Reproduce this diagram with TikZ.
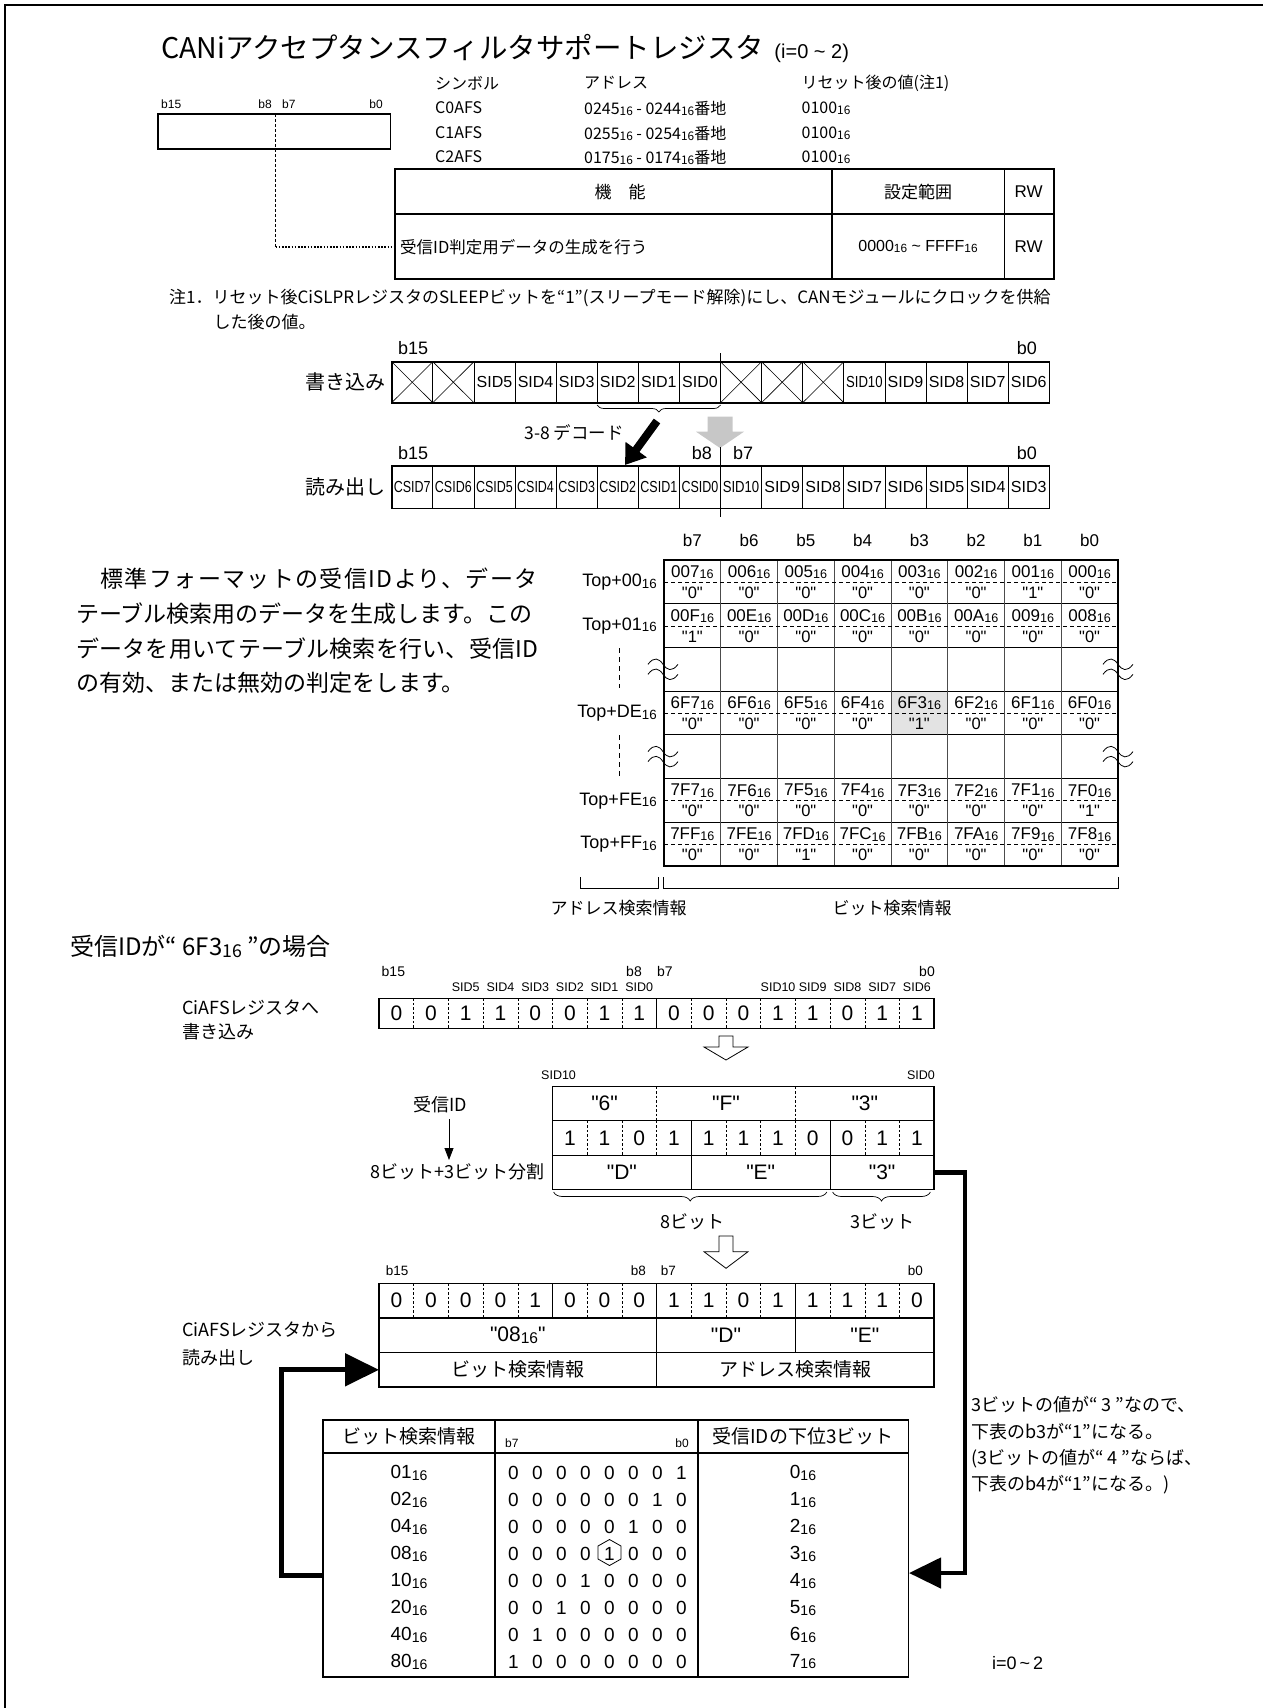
\documentclass[tikz,border=0pt]{standalone}
\usepackage{fontspec}
\usepackage{graphicx}
\setmainfont{Noto Sans CJK JP}
\newfontfamily\lat{Liberation Sans}
\usetikzlibrary{arrows.meta,decorations.pathreplacing}
\newcommand\fs[1]{\fontsize{#1pt}{#1pt}\selectfont}
\newcommand\hs{\raisebox{-0.08em}{\scalebox{0.74}{16}}}
\newcommand\sqz[2]{\scalebox{#1}[1]{#2}}
\newcommand\tabrow[4]{%
  \foreach \d [count=\c from 0] in {#3}
    \node[font=\lat\fs{17}] (hx#1\c) at ({664+(\c+0.5)*56.75},{560+#1*43.7+12.3}) {#2\d\hs};
  \foreach \v [count=\c from 0] in {#4}
    \node[font=\lat\fs{16.5}] (hv#1\c) at ({664+(\c+0.5)*56.75},{560+#1*43.7+32.7}) {"\v"};
}
\newcommand\wavemark[2]{%
  \draw[line width=0.8] ({#1-15},{#2-5}) .. controls ({#1-9},{#2-13}) and ({#1-4},{#2-11}) .. ({#1},{#2-5}) .. controls ({#1+4},{#2+1}) and ({#1+9},{#2+3}) .. ({#1+15},{#2-5});
  \draw[line width=0.8] ({#1-15},{#2+5}) .. controls ({#1-9},{#2-3}) and ({#1-4},{#2-1}) .. ({#1},{#2+5}) .. controls ({#1+4},{#2+11}) and ({#1+9},{#2+13}) .. ({#1+15},{#2+5});
}
% bit row: #1 x0, #2 y0, #3 height, #4 bits, #5 unused, #6 name
\newcommand\bitrow[6]{%
  \foreach \b [count=\c from 0] in {#4}
    \node[font=\lat\fs{21}] (#6\c) at ({#1+(\c+0.5)*34.7},{#2+#3/2}) {\b};
}
\tikzset{
  dsh/.style={line width=0.6, dash pattern=on 2.5pt off 2pt},
  thickbox/.style={line width=1.6},
  cellline/.style={line width=0.7},
  openarrow/.style={line width=0.8, fill=white},
}
\begin{document}
\begin{tikzpicture}[x=1pt,y=-1pt,every node/.style={inner sep=0pt}]
\useasboundingbox (0,0) rectangle (1263,1708);
% frame
\draw[line width=2] (5,1708) -- (5,5) -- (1263,5);

% ===== title
\node[anchor=west,font=\fs{28.5}] (title) at (161,48) {CANiアクセプタンスフィルタサポートレジスタ};
\node[anchor=base west,font=\lat\fs{20}] (titlei) at ([xshift=10pt]title.base east) {(i=0 \textasciitilde\ 2)};

% ===== small register
\node[anchor=west,font=\lat\fs{12}] (sb15) at (161,104) {b15};
\node[anchor=east,font=\lat\fs{12}] (sb8) at (272,104) {b8};
\node[anchor=west,font=\lat\fs{12}] (sb7) at (282,104) {b7};
\node[anchor=east,font=\lat\fs{12}] (sb0) at (383,104) {b0};
\draw[line width=1.3] (158,114) rectangle (390.6,149);
\coordinate (dl1) at (275.5,114);
\coordinate (dl2) at (275.5,247);
\coordinate (dl3) at (396,247);
\draw[line width=1, dash pattern=on 3pt off 2pt] (dl1) -- (dl2);
\draw[line width=1.6, dash pattern=on 1.6pt off 1.6pt] (dl2) -- (dl3);

% ===== symbol/address table
\foreach \t/\x [count=\k] in {シンボル/435,アドレス/584,リセット後の値(注1)/801.5}
  \node[anchor=west,font=\fs{16}] (sh\k) at (\x,83) {\t};
\node[anchor=west,font=\fs{16}] (s0) at (435,108) {C0AFS};
\node[anchor=west,font=\fs{16}] (s1) at (435,133) {C1AFS};
\node[anchor=west,font=\fs{16}] (s2) at (435,157) {C2AFS};
\node[anchor=west,font=\fs{16}] (a0) at (584,108) {0245\hs\ - 0244\hs 番地};
\node[anchor=west,font=\fs{16}] (a1) at (584,133) {0255\hs\ - 0254\hs 番地};
\node[anchor=west,font=\fs{16}] (a2) at (584,157) {0175\hs\ - 0174\hs 番地};
\node[anchor=west,font=\fs{16}] (r0) at (801.5,108) {0100\hs};
\node[anchor=west,font=\fs{16}] (r1) at (801.5,133) {0100\hs};
\node[anchor=west,font=\fs{16}] (r2) at (801.5,157) {0100\hs};

% ===== function table
\draw[line width=2] (394.7,169) rectangle (1053.6,279);
\draw[line width=2] (394.7,214) -- (1053.6,214);
\draw[line width=1.1] (832,169) -- (832,279) (1004.5,169) -- (1004.5,279);
\node[font=\fs{17}] (fk) at (620,192) {機　能};
\node[font=\fs{17}] (fr) at (918,192) {設定範囲};
\node[font=\lat\fs{17}] (frw) at (1028.6,192) {RW};
\node[anchor=west,font=\fs{16.5}] (fd) at (400,246.8) {受信ID判定用データの生成を行う};
\node[font=\lat\fs{16}] (fv) at (918,246.8) {0000\hs\ \textasciitilde\ FFFF\hs};
\node[font=\lat\fs{17}] (frw2) at (1028.6,246.8) {RW};

% ===== note
\node[anchor=west,font=\fs{17}] (n1) at (169,297.7) {注1．リセット後CiSLPRレジスタのSLEEPビットを“1”(スリープモード解除)にし、CANモジュールにクロックを供給};
\node[anchor=west,font=\fs{17}] (n2) at (213.5,321.7) {した後の値。};

% ===== write register
\def\wx{391.7}\def\wc{41.1}
\node[anchor=west,font=\lat\fs{18}] (wb15) at (398,348) {b15};
\node[anchor=east,font=\lat\fs{18}] (wb0) at (1037,348) {b0};
\node[anchor=east,font=\fs{20}] (wlab) at (386,382.2) {書き込み};
\foreach \i in {1,...,15} \draw[cellline] ({\wx+\i*\wc},361.7) -- ++(0,41);
\foreach \i in {0,1,8,9,10} {
  \draw[line width=0.6] ({\wx+\i*\wc},361.7) -- ++(\wc,41);
  \draw[line width=0.6] ({\wx+(\i+1)*\wc},361.7) -- ++(-\wc,41);
}
\draw[thickbox] (\wx,361.7) rectangle ({\wx+16*\wc},402.7);
\foreach \t/\i in {SID5/2,SID4/3,SID3/4,SID2/5,SID1/6,SID0/7,SID9/12,SID8/13,SID7/14,SID6/15}
  \node[font=\lat\fs{16}] (w\i) at ({\wx+(\i+0.5)*\wc},382.2) {\t};
\node[font=\lat\fs{16}] (w11) at ({\wx+11.5*\wc},382.2) {\sqz{0.82}{SID10}};

% brace + arrows between registers
\draw[decorate,decoration={brace,amplitude=7pt,mirror},line width=0.7] ({\wx+5*\wc},405) -- ({\wx+8*\wc},405);
\coordinate (ba1) at (657,421);
\coordinate (ba2) at (625,465);
\draw[line width=8,-{Triangle[length=19pt,width=25pt]}] (ba1) -- (ba2);
\node[font=\fs{17.5}] (dec) at (574,433) {3-8 デコード};
\fill[black!22] (707.5,416.7) -- (732.5,416.7) -- (732.5,431.7) -- (744,431.7) -- (720,448) -- (696,431.7) -- (707.5,431.7) -- cycle;

% ===== read register
\node[anchor=west,font=\lat\fs{18}] (rb15) at (398,453) {b15};
\node[anchor=east,font=\lat\fs{18}] (rb8) at (712,453) {b8};
\node[anchor=west,font=\lat\fs{18}] (rb7) at (733,453) {b7};
\node[anchor=east,font=\lat\fs{18}] (rb0) at (1037,453) {b0};
\node[anchor=east,font=\fs{20}] (rlab) at (386,487.2) {読み出し};
\foreach \i in {1,...,15} \draw[cellline] ({\wx+\i*\wc},466) -- ++(0,42.3);
\draw[thickbox] (\wx,466) rectangle ({\wx+16*\wc},508.3);
\foreach \t/\i in {CSID7/0,CSID6/1,CSID5/2,CSID4/3,CSID3/4,CSID2/5,CSID1/6,CSID0/7}
  \node[font=\lat\fs{16}] (rc\i) at ({\wx+(\i+0.5)*\wc},487.2) {\sqz{0.78}{\t}};
\node[font=\lat\fs{16}] (rc8) at ({\wx+8.5*\wc},487.2) {\sqz{0.82}{SID10}};
\foreach \t/\i in {SID9/9,SID8/10,SID7/11,SID6/12,SID5/13,SID4/14,SID3/15}
  \node[font=\lat\fs{16}] (rc\i) at ({\wx+(\i+0.5)*\wc},487.2) {\t};
% centre line
\draw[line width=0.7] (720,353) -- (720,361.7) (720,447) -- (720,466) (720,508.3) -- (720,517);

% ===== paragraph
\node[anchor=west,font=\fs{23}\addfontfeature{LetterSpace=6}] (p1) at (76,578.6) {　標準フォーマットの受信IDより、データ};
\node[anchor=west,font=\fs{23}] (p2) at (76,613.5) {テーブル検索用のデータを生成します。この};
\node[anchor=west,font=\fs{23}\addfontfeature{LetterSpace=1}] (p3) at (76,648.4) {データを用いてテーブル検索を行い、受信ID};
\node[anchor=west,font=\fs{23}] (p4) at (76,683.3) {の有効、または無効の判定をします。};

% ===== big table
\def\tx{664}\def\tw{56.75}\def\ty{560}\def\th{43.7}
\foreach \t [count=\c from 0] in {b7,b6,b5,b4,b3,b2,b1,b0}
  \node[font=\lat\fs{17}] (bh\c) at ({\tx+(\c+0.5)*\tw},540.5) {\t};
\fill[black!11] ({\tx+4*\tw},{\ty+3*\th}) rectangle ++(\tw,\th);
\foreach \r in {1,...,6} \draw[line width=1] (\tx,{\ty+\r*\th}) -- ++(8*\tw,0);
\foreach \c in {1,...,7} \draw[line width=0.8,black!70] ({\tx+\c*\tw},\ty) -- ++(0,7*\th);
\foreach \r in {0,1,3,5,6} \draw[line width=0.7,dash pattern=on 4pt off 3pt] (\tx,{\ty+\r*\th+22.3}) -- ++(8*\tw,0);
\draw[line width=1.5] (\tx,\ty) rectangle ++(8*\tw,7*\th);
\tabrow{0}{00}{7,6,5,4,3,2,1,0}{0,0,0,0,0,0,1,0}
\tabrow{1}{00}{F,E,D,C,B,A,9,8}{1,0,0,0,0,0,0,0}
\tabrow{3}{6F}{7,6,5,4,3,2,1,0}{0,0,0,0,1,0,0,0}
\tabrow{5}{7F}{7,6,5,4,3,2,1,0}{0,0,0,0,0,0,0,1}
\tabrow{6}{7F}{F,E,D,C,B,A,9,8}{0,0,1,0,0,0,0,0}
\foreach \l/\r in {00/0,01/1,DE/3,FE/5,FF/6}
  \node[anchor=east,font=\lat\fs{18}] (tl\r) at (657,{\ty+\r*\th+22.3}) {Top+\l\hs};
\draw[line width=0.8,dash pattern=on 5pt off 4pt] (619,648) -- (619,688) (619,735) -- (619,776);
\wavemark{663}{669.3}
\wavemark{1118}{669.3}
\wavemark{663}{756.6}
\wavemark{1118}{756.6}
% brackets
\draw[line width=0.8] (580,877) -- (580,888) -- (658.3,888) -- (658.3,877);
\draw[line width=0.8] (663.3,877) -- (663.3,888) -- (1118,888) -- (1118,877);
\node[font=\fs{17}] (adr) at (618.5,907.7) {アドレス検索情報};
\node[font=\fs{17}] (bit) at (892,907.7) {ビット検索情報};

% ===== lower section heading
\node[anchor=west,font=\fs{24}] (case) at (70,946) {受信IDが“ 6F3\hs\ ”の場合};

% ===== lower register 1 (write)
\def\lx{379}\def\lc{34.7}
\node[anchor=west,font=\lat\fs{14}] (lb15) at (381.5,971.7) {b15};
\node[anchor=east,font=\lat\fs{14}] (lb8) at (642,971.7) {b8};
\node[anchor=west,font=\lat\fs{14}] (lb7) at (657,971.7) {b7};
\node[anchor=east,font=\lat\fs{14}] (lb0) at (935,971.7) {b0};
\foreach \t/\i in {SID5/2,SID4/3,SID3/4,SID2/5,SID1/6,SID0/7,SID10/11,SID9/12,SID8/13,SID7/14,SID6/15}
  \node[font=\lat\fs{12.5}] (ls\i) at ({\lx+(\i+0.5)*\lc},986.7) {\t};
\node[anchor=west,font=\fs{18}] (cw1) at (182,1008) {CiAFSレジスタへ};
\node[anchor=west,font=\fs{18}] (cw2) at (182,1031.7) {書き込み};
\foreach \i in {1,...,15} \draw[dsh] ({\lx+\i*\lc},998.3) -- ++(0,30);
\draw[line width=1] ({\lx+8*\lc},998.3) -- ++(0,30);
\draw[line width=1.5] (\lx,998.3) rectangle ({\lx+16*\lc},1028.3);
\bitrow{\lx}{998.3}{30}{0,0,1,1,0,0,1,1,0,0,0,1,1,0,1,1}{8}{wr}

% open arrow 1
\draw[openarrow] (719,1036) -- (733,1036) -- (733,1047) -- (748,1047) -- (726,1060) -- (704,1047) -- (719,1047) -- cycle;

% ===== received ID table
\def\rx{552.5}\def\ry{1086.5}\def\rh{34.4}
\node[anchor=west,font=\lat\fs{12.5}] (sid10) at (541,1075) {SID10};
\node[anchor=east,font=\lat\fs{12.5}] (sid0) at (935,1075) {SID0};
% row 1
\draw[dsh] ({\rx+3*\lc},\ry) -- ++(0,\rh) ({\rx+7*\lc},\ry) -- ++(0,\rh);
\node[font=\lat\fs{21}] (q6) at ({\rx+1.5*\lc},{\ry+\rh/2}) {"6"};
\node[font=\lat\fs{21}] (qF) at ({\rx+5*\lc},{\ry+\rh/2}) {"F"};
\node[font=\lat\fs{21}] (q3) at ({\rx+9*\lc},{\ry+\rh/2}) {"3"};
% row 2
\foreach \i in {1,...,10} \draw[dsh] ({\rx+\i*\lc},{\ry+\rh}) -- ++(0,\rh);
\draw[line width=1] ({\rx+4*\lc},{\ry+\rh}) -- ++(0,2*\rh) ({\rx+8*\lc},{\ry+\rh}) -- ++(0,2*\rh);
\bitrow{\rx}{\ry+\rh}{\rh}{1,1,0,1,1,1,1,0,0,1,1}{}{rid}
% row 3
\node[font=\lat\fs{21}] (qD) at ({\rx+2*\lc},{\ry+2.5*\rh}) {"D"};
\node[font=\lat\fs{21}] (qE) at ({\rx+6*\lc},{\ry+2.5*\rh}) {"E"};
\node[font=\lat\fs{21}] (q33) at ({\rx+9.5*\lc},{\ry+2.5*\rh}) {"3"};
\draw[line width=1] (\rx,{\ry+\rh}) -- ++(11*\lc,0) (\rx,{\ry+2*\rh}) -- ++(11*\lc,0);
\draw[line width=1.5] (\rx,\ry) rectangle ({\rx+11*\lc},{\ry+3*\rh});
\node[font=\fs{18}] (ridl) at (440,1105) {受信ID};
\coordinate (ra1) at (449,1119);
\coordinate (ra2) at (449,1160);
\draw[line width=0.8,-{Triangle[length=12pt,width=9pt]}] (ra1) -- (ra2);
\node[anchor=east,font=\fs{18}] (split) at (544.6,1172) {8ビット+3ビット分割};
\draw[decorate,decoration={brace,amplitude=9pt,mirror},line width=0.7] (553.6,1192) -- (826.8,1192);
\draw[decorate,decoration={brace,amplitude=9pt,mirror},line width=0.7] (832.6,1192) -- (930.4,1192);
\node[font=\fs{18}] (b8l) at (692.8,1221.7) {8ビット};
\node[font=\fs{18}] (b3l) at (882.6,1221.7) {3ビット};

% open arrow 2
\draw[openarrow] (719,1236) -- (733,1236) -- (733,1251.7) -- (748,1251.7) -- (726,1268.3) -- (704,1251.7) -- (719,1251.7) -- cycle;

% ===== lower register 2 (read)
\def\gy{1283.3}\def\gh{34.6}
\node[anchor=west,font=\lat\fs{13.5}] (gb15) at (385.7,1270.7) {b15};
\node[anchor=east,font=\lat\fs{13.5}] (gb8) at (646,1270.7) {b8};
\node[anchor=west,font=\lat\fs{13.5}] (gb7) at (660.7,1270.7) {b7};
\node[anchor=east,font=\lat\fs{13.5}] (gb0) at (923,1270.7) {b0};
\node[anchor=west,font=\fs{18}] (cr1) at (182,1330) {CiAFSレジスタから};
\node[anchor=west,font=\fs{18}] (cr2) at (182,1357.7) {読み出し};
\foreach \i in {1,...,15} \draw[dsh] ({\lx+\i*\lc},\gy) -- ++(0,\gh);
\draw[line width=1] ({\lx+5*\lc},\gy) -- ++(0,\gh);
\draw[line width=1] ({\lx+12*\lc},\gy) -- ++(0,2*\gh);
\draw[line width=1.3] ({\lx+8*\lc},\gy) -- ++(0,3*\gh);
\draw[line width=1.3] (\lx,{\gy+\gh}) -- ++(16*\lc,0) (\lx,{\gy+2*\gh}) -- ++(16*\lc,0);
\draw[line width=1.5] (\lx,\gy) rectangle ({\lx+16*\lc},{\gy+3*\gh});
\bitrow{\lx}{\gy}{\gh}{0,0,0,0,1,0,0,0,1,1,0,1,1,1,1,0}{}{rd}
\node[font=\lat\fs{21}] (g08) at ({\lx+4*\lc},{\gy+1.5*\gh}) {"08\hs"};
\node[font=\lat\fs{21}] (gD) at ({\lx+10*\lc},{\gy+1.5*\gh}) {"D"};
\node[font=\lat\fs{21}] (gE) at ({\lx+14*\lc},{\gy+1.5*\gh}) {"E"};
\node[font=\fs{19}] (gbit) at ({\lx+4*\lc},{\gy+2.5*\gh}) {ビット検索情報};
\node[font=\fs{19}] (gadr) at ({\lx+12*\lc},{\gy+2.5*\gh}) {アドレス検索情報};

% ===== bottom table
\draw[line width=1.8] (322.7,1420) rectangle (908.5,1676.7);
\draw[line width=1.8] (322.7,1453.3) -- (908.5,1453.3);
\draw[line width=1.8] (495,1420) -- (495,1676.7) (698,1420) -- (698,1676.7);
\node[font=\fs{19}] (th1) at (409,1436.7) {ビット検索情報};
\node[anchor=west,font=\lat\fs{12}] (thb7) at (505,1443) {b7};
\node[anchor=east,font=\lat\fs{12}] (thb0) at (689,1443) {b0};
\node[font=\fs{19}] (th3) at (803,1436.7) {受信IDの下位3ビット};
\foreach \h/\b [count=\k from 0] in {01/{0,0,0,0,0,0,0,1},02/{0,0,0,0,0,0,1,0},04/{0,0,0,0,0,1,0,0},08/{0,0,0,0,1,0,0,0},10/{0,0,0,1,0,0,0,0},20/{0,0,1,0,0,0,0,0},40/{0,1,0,0,0,0,0,0},80/{1,0,0,0,0,0,0,0}} {
  \node[font=\lat\fs{19}] (bc1\k) at (409,{1473+26.96*\k}) {\h\hs};
  \foreach \v [count=\j from 0] in \b
    \node[font=\lat\fs{19}] (bb\k\j) at ({513.3+24*\j},{1473+26.96*\k}) {\v};
  \node[font=\lat\fs{19}] (bc3\k) at (803,{1473+26.96*\k}) {\k\hs};
}
\draw[line width=0.8] (609.5,1539.5) -- (621,1546) -- (621,1559) -- (609.5,1565.5) -- (598,1559) -- (598,1546) -- cycle;

% ===== thick connectors
\coordinate (c1) at ({\rx+11*\lc},{\ry+2.5*\rh});
\coordinate (c2) at (965,{\ry+2.5*\rh});
\coordinate (c3) at (965,1573);
\coordinate (c4) at (909,1573);
\draw[line width=4.5,-{Triangle[length=32pt,width=30pt]}] (c1) -- (c2) -- (c3) -- (c4);
\coordinate (d1) at (322.7,1575);
\coordinate (d2) at (281.7,1575);
\coordinate (d3) at (281.7,{\gy+2.5*\gh});
\coordinate (d4) at (379,{\gy+2.5*\gh});
\draw[line width=5,-{Triangle[length=34pt,width=32pt]}] (d1) -- (d2) -- (d3) -- (d4);

% ===== right text
\node[anchor=west,font=\fs{18}] (e1) at (971,1405) {3ビットの値が“ 3 ”なので、};
\node[anchor=west,font=\fs{18}] (e2) at (971,1431.7) {下表のb3が“1”になる。};
\node[anchor=west,font=\fs{18}] (e3) at (971,1458.3) {(3ビットの値が“ 4 ”ならば、};
\node[anchor=west,font=\fs{18}] (e4) at (971,1485) {下表のb4が“1”になる。)};
\node[anchor=west,font=\lat\fs{18}] (iend) at (992,1662.7) {i=0\,\textasciitilde\,2};
\end{tikzpicture}
\end{document}
